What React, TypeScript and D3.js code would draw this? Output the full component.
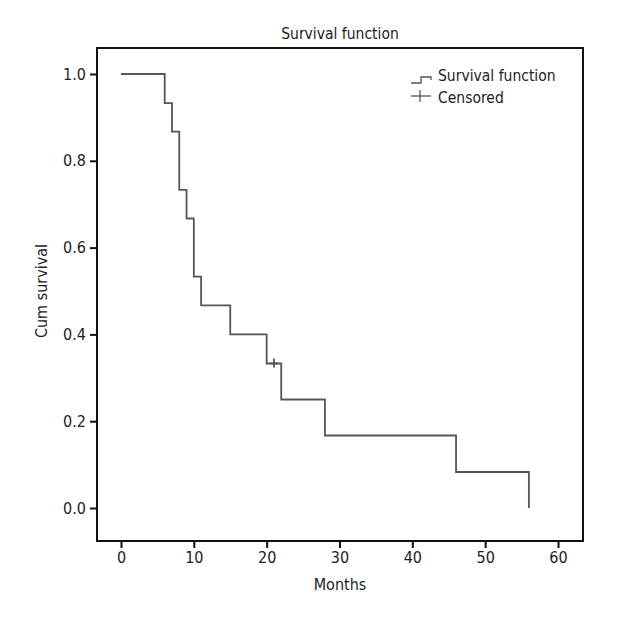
import * as d3 from 'd3';
import React from 'react';

// Kaplan-Meier steps
const times: number[] = [0, 6, 7, 8, 9, 10, 11, 15, 20, 22, 28, 46, 56];
const survival: number[] = [1, 0.933, 0.867, 0.733, 0.667, 0.533, 0.467, 0.4, 0.333, 0.25, 0.167, 0.083, 0];
const censoredTimes: number[] = [21];
const censoredSurvival: number[] = [0.333];
const xTicks: number[] = [0, 10, 20, 30, 40, 50, 60];
const yTicks: number[] = [0, 0.2, 0.4, 0.6, 0.8, 1.0];

const font = '"Liberation Sans Narrow", "DejaVu Sans Condensed", "Roboto Condensed", sans-serif';

const App = (): React.ReactElement => {
    const chartRef = React.useRef<SVGSVGElement>(null);
    const width = 620;
    const height = 620;
    const box = { left: 97, right: 583, top: 48, bottom: 541 };

    React.useEffect(() => {
        const svg = d3.select(chartRef.current);
        svg.selectAll('*').remove();

        const xScale = d3.scaleLinear().domain([0, 60]).range([121, 558]);
        const yScale = d3.scaleLinear().domain([0, 1]).range([508, 74]);

        // Plot frame
        svg.append('rect')
            .attr('x', box.left)
            .attr('y', box.top)
            .attr('width', box.right - box.left)
            .attr('height', box.bottom - box.top)
            .attr('fill', 'none')
            .attr('stroke', '#111')
            .attr('stroke-width', 2);

        // Axes
        const xAxis = d3.axisBottom(xScale).tickValues(xTicks).tickSize(7).tickSizeOuter(0).tickPadding(4);
        const yAxis = d3
            .axisLeft(yScale)
            .tickValues(yTicks)
            .tickSize(7)
            .tickSizeOuter(0)
            .tickPadding(4)
            .tickFormat(d3.format('.1f'));

        const gx = svg.append('g').attr('transform', 'translate(0,' + box.bottom + ')').call(xAxis);
        const gy = svg.append('g').attr('transform', 'translate(' + box.left + ',0)').call(yAxis);
        [gx, gy].forEach((g) => {
            g.select('.domain').remove();
            g.selectAll('line').attr('stroke', '#111').attr('stroke-width', 2);
            g.selectAll('text').attr('font-family', font).attr('font-size', 16).attr('fill', '#222');
        });

        // Survival step line
        const pts: [number, number][] = times.map((t, i) => [t, survival[i]]);
        const line = d3
            .line<[number, number]>()
            .x((d) => xScale(d[0]))
            .y((d) => yScale(d[1]))
            .curve(d3.curveStepAfter);
        svg.append('path')
            .attr('d', line(pts) as string)
            .attr('fill', 'none')
            .attr('stroke', '#555')
            .attr('stroke-width', 1.8);

        // Censored marks
        censoredTimes.forEach((t, i) => {
            const cx = xScale(t);
            const cy = yScale(censoredSurvival[i]);
            svg.append('line')
                .attr('x1', cx).attr('x2', cx)
                .attr('y1', cy - 5).attr('y2', cy + 4)
                .attr('stroke', '#555').attr('stroke-width', 1.8);
            svg.append('line')
                .attr('x1', cx - 4).attr('x2', cx + 4)
                .attr('y1', cy).attr('y2', cy)
                .attr('stroke', '#555').attr('stroke-width', 1.8);
        });

        // Legend
        const lg = svg.append('g');
        lg.append('path')
            .attr('d', 'M411,83 L421,83 L421,77 L431,77 L431,80')
            .attr('fill', 'none')
            .attr('stroke', '#555')
            .attr('stroke-width', 1.3);
        lg.append('line').attr('x1', 411).attr('x2', 431).attr('y1', 96).attr('y2', 96)
            .attr('stroke', '#555').attr('stroke-width', 1.3);
        lg.append('line').attr('x1', 420).attr('x2', 420).attr('y1', 90).attr('y2', 102)
            .attr('stroke', '#555').attr('stroke-width', 1.3);
        lg.append('text').attr('x', 438).attr('y', 81).text('Survival function');
        lg.append('text').attr('x', 438).attr('y', 103).text('Censored');
        lg.selectAll('text').attr('font-family', font).attr('font-size', 15.5).attr('fill', '#222');

        // Titles
        svg.append('text')
            .attr('x', 340).attr('y', 39)
            .attr('text-anchor', 'middle')
            .attr('font-family', font).attr('font-size', 15.5).attr('fill', '#222')
            .text('Survival function');
        svg.append('text')
            .attr('x', 340).attr('y', 590)
            .attr('text-anchor', 'middle')
            .attr('font-family', font).attr('font-size', 16).attr('fill', '#222')
            .text('Months');
        svg.append('text')
            .attr('transform', 'translate(47,291) rotate(-90)')
            .attr('text-anchor', 'middle')
            .attr('font-family', font).attr('font-size', 16).attr('fill', '#222')
            .text('Cum survival');
    }, []);

    return (
        <div>
            <svg
                ref={chartRef}
                width={width}
                height={height}
                style={{ position: 'absolute', left: 0, top: 0, background: '#fff' }}
            ></svg>
        </div>
    );
};

export default App;
